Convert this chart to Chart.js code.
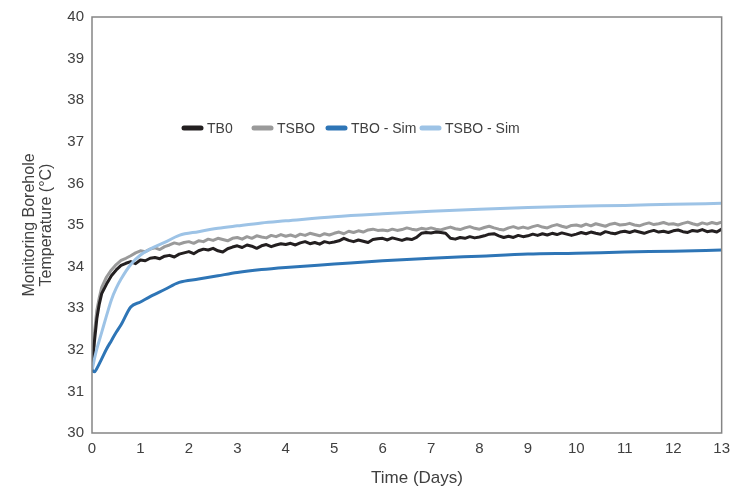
<!DOCTYPE html>
<html>
<head>
<meta charset="utf-8">
<script src="https://cdn.jsdelivr.net/npm/chart.js@4/dist/chart.umd.min.js"></script>
<style>
  body { margin: 0; background: #fff; }
  #wrap { width: 737px; height: 491px; }
</style>
</head>
<body>
<div id="wrap"><canvas id="chart" width="737" height="491"></canvas></div>
<script>
// measured series (days)
const measDays = [0, 0.05, 0.1, 0.15, 0.2, 0.3, 0.4, 0.5, 0.6, 0.7, 0.8, 0.9,
  1.0, 1.1, 1.2, 1.3, 1.4, 1.5, 1.6, 1.7, 1.8, 1.9,
  2.0, 2.1, 2.2, 2.3, 2.4, 2.5, 2.6, 2.7, 2.8, 2.9,
  3.0, 3.1, 3.2, 3.3, 3.4, 3.5, 3.6, 3.7, 3.8, 3.9,
  4.0, 4.1, 4.2, 4.3, 4.4, 4.5, 4.6, 4.7, 4.8, 4.9,
  5.0, 5.1, 5.2, 5.3, 5.4, 5.5, 5.6, 5.7, 5.8, 5.9,
  6.0, 6.1, 6.2, 6.3, 6.4, 6.5, 6.6, 6.7, 6.8, 6.9,
  7.0, 7.1, 7.2, 7.3, 7.4, 7.5, 7.6, 7.7, 7.8, 7.9,
  8.0, 8.1, 8.2, 8.3, 8.4, 8.5, 8.6, 8.7, 8.8, 8.9,
  9.0, 9.1, 9.2, 9.3, 9.4, 9.5, 9.6, 9.7, 9.8, 9.9,
  10.0, 10.1, 10.2, 10.3, 10.4, 10.5, 10.6, 10.7, 10.8, 10.9,
  11.0, 11.1, 11.2, 11.3, 11.4, 11.5, 11.6, 11.7, 11.8, 11.9,
  12.0, 12.1, 12.2, 12.3, 12.4, 12.5, 12.6, 12.7, 12.8, 12.9,
  13.0];

const tb0 = [31.5, 32.2, 32.75, 33.1, 33.35, 33.58, 33.78, 33.92, 34.03, 34.08, 34.12, 34.07,
  34.16, 34.14, 34.2, 34.22, 34.19, 34.25, 34.27, 34.23, 34.3, 34.33,
  34.36, 34.31, 34.38, 34.42, 34.4, 34.44, 34.38, 34.35, 34.43, 34.47,
  34.5, 34.46, 34.52, 34.49, 34.44, 34.5, 34.53, 34.48, 34.52, 34.55,
  34.53, 34.56, 34.52, 34.57, 34.6, 34.55, 34.58, 34.54, 34.6, 34.57,
  34.59, 34.62, 34.68, 34.63, 34.6, 34.64, 34.61, 34.58, 34.65, 34.67,
  34.68, 34.64, 34.69, 34.66, 34.63, 34.67, 34.65, 34.7, 34.8, 34.82,
  34.81, 34.83, 34.82, 34.8, 34.68, 34.66, 34.7, 34.68, 34.72, 34.69,
  34.71, 34.74, 34.78, 34.79, 34.74, 34.7, 34.73, 34.7, 34.75, 34.72,
  34.74, 34.78, 34.75, 34.79, 34.76, 34.8, 34.77, 34.81, 34.78, 34.75,
  34.78, 34.82, 34.79, 34.83, 34.8, 34.78, 34.84, 34.81, 34.79, 34.83,
  34.85, 34.82, 34.86, 34.83, 34.8, 34.84, 34.87, 34.83, 34.85, 34.82,
  34.86, 34.88, 34.84, 34.82, 34.87, 34.85, 34.89, 34.84, 34.86, 34.83,
  34.9];

const tsbo = [31.5, 32.4, 32.95, 33.25, 33.5, 33.75, 33.92, 34.05, 34.15, 34.2, 34.26, 34.33,
  34.38, 34.36, 34.42, 34.45, 34.41, 34.48, 34.52, 34.57, 34.54, 34.58,
  34.6, 34.56, 34.62, 34.6, 34.66, 34.63, 34.68, 34.65, 34.62, 34.68,
  34.7, 34.66, 34.72, 34.68, 34.74, 34.71, 34.69, 34.75, 34.72, 34.77,
  34.73, 34.76, 34.72, 34.78, 34.75, 34.8, 34.77, 34.74, 34.79, 34.76,
  34.8, 34.83, 34.79, 34.85, 34.82, 34.86, 34.83, 34.88, 34.9, 34.87,
  34.88, 34.86, 34.9, 34.87, 34.89, 34.93, 34.9, 34.88, 34.92, 34.9,
  34.93, 34.9, 34.88, 34.92, 34.95, 34.91, 34.89, 34.93, 34.96, 34.92,
  34.9, 34.94, 34.97, 34.93, 34.9, 34.88, 34.93, 34.96, 34.92, 34.95,
  34.92, 34.96, 34.99, 34.95, 34.93, 34.98, 35.01, 34.97, 34.94, 34.99,
  35.0, 34.97, 35.02, 34.98, 35.03, 35.0, 34.97, 35.02, 35.04, 35.0,
  35.01, 35.04, 35.0, 34.98, 35.02, 35.05, 35.01, 35.03, 35.06, 35.02,
  35.03, 35.0, 35.04, 35.07, 35.03, 35.0, 35.05, 35.02, 35.06, 35.03,
  35.07];

// simulated series
const simDays = [0, 0.05, 0.1, 0.2, 0.3, 0.4, 0.5, 0.6, 0.8, 1.0, 1.2, 1.5, 1.8, 2.2, 2.6, 3,
  3.5, 4, 5, 6, 7, 8, 9, 10, 11, 12, 13];
const tboSim = [31.5, 31.47, 31.55, 31.78, 32.02, 32.22, 32.42, 32.6, 33.03, 33.15, 33.28, 33.45, 33.62,
  33.7, 33.78, 33.86, 33.93, 33.98, 34.06, 34.14, 34.2, 34.25, 34.3, 34.32, 34.35, 34.37, 34.4];
const tsboSim = [31.5, 31.78, 32.02, 32.42, 32.82, 33.2, 33.48, 33.7, 34.05, 34.28, 34.42, 34.58, 34.75,
  34.84, 34.92, 34.98, 35.05, 35.1, 35.2, 35.27, 35.33, 35.38, 35.42, 35.45, 35.47, 35.5, 35.52];

const seriesLabels = ['TB0', 'TSBO', 'TBO - Sim', 'TSBO - Sim'];
const seriesColors = ['#231f20', '#9a9a9a', '#2e75b6', '#9dc3e6'];
const xTicks = [0, 1, 2, 3, 4, 5, 6, 7, 8, 9, 10, 11, 12, 13];
const yTicks = [30, 31, 32, 33, 34, 35, 36, 37, 38, 39, 40];

const FONT = "'Liberation Sans', Arial, sans-serif";
const TEXT = '#404040';

function pts(xs, ys) {
  return xs.map((x, i) => ({ x: x, y: ys[i] }));
}

// box around plot area
const framePlugin = {
  id: 'frame',
  afterDraw(chart) {
    const { ctx, chartArea: a } = chart;
    ctx.save();
    ctx.strokeStyle = '#858585';
    ctx.lineWidth = 1.5;
    ctx.strokeRect(a.left, a.top, a.right - a.left, a.bottom - a.top);
    ctx.restore();
  }
};

// legend sits inside the plot, x title slightly right of centre
const textPlugin = {
  id: 'extraText',
  afterDraw(chart) {
    const { ctx } = chart;
    const xs = [182, 252, 326, 420];
    const y = 128;
    ctx.save();
    ctx.font = '14px ' + FONT;
    ctx.textBaseline = 'middle';
    chart.data.datasets.forEach((ds, i) => {
      ctx.strokeStyle = ds.borderColor;
      ctx.lineWidth = 5;
      ctx.lineCap = 'round';
      ctx.beginPath();
      ctx.moveTo(xs[i] + 2, y);
      ctx.lineTo(xs[i] + 19, y);
      ctx.stroke();
      ctx.fillStyle = TEXT;
      ctx.fillText(ds.label, xs[i] + 25, y + 1);
    });
    ctx.font = '17px ' + FONT;
    ctx.textAlign = 'center';
    ctx.fillText('Time (Days)', 417, 478);
    ctx.restore();
  }
};

const datasets = [
  { label: seriesLabels[0], data: pts(measDays, tb0), borderColor: seriesColors[0], borderWidth: 3, order: 2 },
  { label: seriesLabels[1], data: pts(measDays, tsbo), borderColor: seriesColors[1], borderWidth: 3, order: 3 },
  { label: seriesLabels[2], data: pts(simDays, tboSim), borderColor: seriesColors[2], borderWidth: 3, order: 0, cubicInterpolationMode: 'monotone' },
  { label: seriesLabels[3], data: pts(simDays, tsboSim), borderColor: seriesColors[3], borderWidth: 3, order: 1, cubicInterpolationMode: 'monotone' }
];

new Chart(document.getElementById('chart'), {
  type: 'line',
  data: { datasets: datasets },
  options: {
    responsive: false,
    animation: false,
    layout: { padding: { left: 0, top: 12, right: 12, bottom: 0 } },
    elements: { point: { radius: 0 }, line: { tension: 0, borderJoinStyle: 'round' } },
    plugins: { legend: { display: false }, tooltip: { enabled: false } },
    scales: {
      x: {
        type: 'linear', min: 0, max: 13,
        afterFit(s) { s.height = 58; },
        afterBuildTicks(s) { s.ticks = xTicks.map(v => ({ value: v })); },
        grid: { display: false, drawTicks: false }, border: { display: false },
        ticks: { padding: 7, color: TEXT, font: { family: FONT, size: 15 } }
      },
      y: {
        type: 'linear', min: 30, max: 40,
        afterFit(s) { s.width = 92; },
        afterBuildTicks(s) { s.ticks = yTicks.map(v => ({ value: v })); },
        grid: { display: false, drawTicks: false }, border: { display: false },
        ticks: { padding: 8, color: TEXT, font: { family: FONT, size: 15 } },
        title: { display: true, text: ['Monitoring Borehole', 'Temperature (°C)'], color: TEXT,
                 padding: { top: 21.5, bottom: 0 }, font: { family: FONT, size: 16, lineHeight: '17px' } }
      }
    }
  },
  plugins: [framePlugin, textPlugin]
});
</script>
</body>
</html>
